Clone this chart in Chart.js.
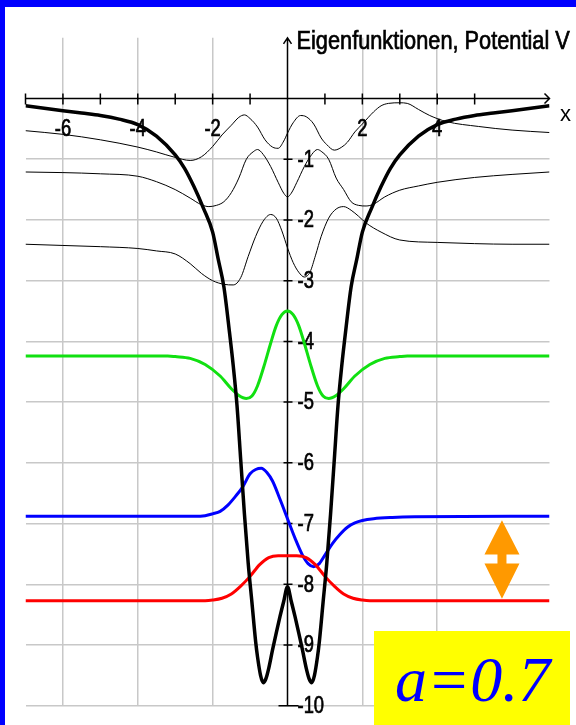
<!DOCTYPE html>
<html>
<head>
<meta charset="utf-8">
<script src="https://cdn.jsdelivr.net/npm/chart.js"></script>
<style>
  body { margin:0; background:#fff; }
  #wrap { position:relative; width:576px; height:725px; overflow:hidden; background:#fff; }
  #plot { position:absolute; left:0; top:0; }
  .frame { position:absolute; background:#0000ff; }
  #abox { position:absolute; left:374px; top:631px; width:196px; height:94px; background:#ffff00; }
  #abox span { position:absolute; left:21px; top:17px; font:italic 64px "Liberation Serif", "DejaVu Serif", serif; line-height:1; color:#0000ff; white-space:nowrap; }
</style>
</head>
<body>
<div id="wrap">
  <canvas id="plot" width="576" height="725"></canvas>
  <div class="frame" style="left:0;top:0;width:576px;height:7px"></div>
  <div class="frame" style="left:0;top:0;width:5px;height:725px"></div>
  <div id="abox"><span>a=0.7</span></div>
</div>
<script>
// potential V(x), double well
const potX = [-7,-6.5,-6,-5.5,-5,-4.5,-4,-3.5,-3,-2.75,-2.5,-2.25,-2,-1.85,-1.7,-1.55,-1.45,-1.35,-1.25,-1.15,-1.05,-0.95,-0.85,-0.8,-0.72,-0.65,-0.58,-0.5,-0.4,-0.3,-0.2,-0.1,0,
              0.1,0.2,0.3,0.4,0.5,0.58,0.65,0.72,0.8,0.85,0.95,1.05,1.15,1.25,1.35,1.45,1.55,1.7,1.85,2,2.25,2.5,2.75,3,3.5,4,4.5,5,5.5,6,6.5,7];
const potV = [-0.12,-0.16,-0.2,-0.24,-0.28,-0.34,-0.43,-0.62,-0.93,-1.15,-1.45,-1.8,-2.2,-2.65,-3.1,-3.85,-4.4,-5.05,-5.95,-6.85,-7.65,-8.3,-8.95,-9.2,-9.5,-9.62,-9.56,-9.38,-9.08,-8.8,-8.53,-8.28,-8.04,
              -8.28,-8.53,-8.8,-9.08,-9.38,-9.56,-9.62,-9.5,-9.2,-8.95,-8.3,-7.65,-6.85,-5.95,-5.05,-4.4,-3.85,-3.1,-2.65,-2.2,-1.8,-1.45,-1.15,-0.93,-0.62,-0.43,-0.34,-0.28,-0.24,-0.2,-0.16,-0.12];

// ground state (red), drawn at its energy
const redX = [-7,-2.2,-2,-1.75,-1.5,-1.25,-1,-0.75,-0.5,-0.25,0,0.25,0.5,0.75,1,1.25,1.5,1.75,2,2.2,7];
const redY = [-8.27,-8.27,-8.26,-8.23,-8.16,-8.03,-7.87,-7.68,-7.56,-7.53,-7.53,-7.53,-7.56,-7.68,-7.87,-8.03,-8.16,-8.23,-8.26,-8.27,-8.27];

// 1st excited (blue)
const blueX = [-7,-2.5,-2.2,-2,-1.8,-1.6,-1.4,-1.2,-1,-0.85,-0.7,-0.55,-0.4,-0.2,0,0.2,0.4,0.55,0.7,0.85,1,1.2,1.4,1.6,1.8,2,2.3,2.8,3.4,7];
const blueY = [-6.88,-6.88,-6.87,-6.84,-6.80,-6.70,-6.56,-6.40,-6.18,-6.11,-6.09,-6.16,-6.30,-6.60,-6.92,-7.24,-7.52,-7.66,-7.71,-7.66,-7.52,-7.33,-7.18,-7.06,-6.99,-6.95,-6.92,-6.90,-6.89,-6.88];

// 2nd excited (green)
const greenX = [-7,-3.2,-3,-2.6,-2.2,-1.8,-1.5,-1.3,-1.1,-0.95,-0.8,-0.6,-0.45,-0.3,-0.15,0,0.15,0.3,0.45,0.6,0.8,0.95,1.1,1.3,1.5,1.8,2.2,2.6,3,3.2,7];
const greenY = [-4.24,-4.24,-4.25,-4.28,-4.38,-4.57,-4.78,-4.89,-4.94,-4.90,-4.73,-4.35,-4.03,-3.74,-3.56,-3.50,-3.56,-3.74,-4.03,-4.35,-4.73,-4.90,-4.94,-4.89,-4.78,-4.57,-4.38,-4.28,-4.25,-4.24,-4.24];

// higher states, thin black
const thinAX = [-7,-6,-5,-4,-3.5,-3,-2.6,-2.3,-2,-1.75,-1.5,-1.3,-1.15,-1,-0.8,-0.6,-0.4,-0.25,-0.1,0,0.15,0.35,0.5,0.7,0.9,1.05,1.25,1.45,1.6,1.8,2,2.3,2.5,2.7,3,3.2,3.5,3.8,4.25,5.1,6,7];
const thinAY = [-0.53,-0.59,-0.68,-0.80,-0.88,-0.97,-1.02,-0.96,-0.79,-0.6,-0.44,-0.31,-0.27,-0.33,-0.47,-0.68,-0.80,-0.82,-0.70,-0.57,-0.40,-0.28,-0.30,-0.42,-0.65,-0.76,-0.85,-0.80,-0.72,-0.55,-0.42,-0.22,-0.12,-0.08,-0.07,-0.08,-0.18,-0.28,-0.38,-0.46,-0.52,-0.56];

const thinBX = [-7,-6,-5,-4,-3.5,-3,-2.6,-2.3,-2.1,-1.9,-1.7,-1.5,-1.3,-1.1,-0.9,-0.8,-0.65,-0.45,-0.25,-0.1,0,0.1,0.25,0.45,0.65,0.8,0.9,1.1,1.3,1.5,1.7,1.9,2.1,2.3,2.6,3,3.5,4,5,6,7];
const thinBY = [-1.21,-1.22,-1.24,-1.28,-1.37,-1.50,-1.64,-1.75,-1.78,-1.76,-1.70,-1.55,-1.31,-1.00,-0.87,-0.84,-0.92,-1.12,-1.38,-1.56,-1.62,-1.56,-1.38,-1.12,-0.92,-0.84,-0.87,-1.00,-1.31,-1.50,-1.70,-1.76,-1.77,-1.74,-1.62,-1.51,-1.44,-1.38,-1.30,-1.25,-1.21];

const thinCX = [-7,-6,-5,-4,-3.5,-3,-2.6,-2.3,-2,-1.7,-1.45,-1.25,-1.05,-0.85,-0.65,-0.45,-0.3,-0.15,0,0.15,0.3,0.45,0.6,0.75,0.9,1.1,1.3,1.5,1.7,1.9,2.1,2.5,3,4,5,6,7];
const thinCY = [-2.40,-2.42,-2.44,-2.47,-2.51,-2.56,-2.72,-2.88,-3.00,-3.06,-3.07,-2.95,-2.60,-2.27,-2.02,-1.91,-1.97,-2.18,-2.46,-2.70,-2.86,-2.94,-2.86,-2.58,-2.27,-1.97,-1.82,-1.78,-1.84,-1.94,-2.05,-2.20,-2.33,-2.37,-2.39,-2.40,-2.40];

// axis ticks and labels
const xTickMarks = [-7,-6,-5,-4,-3,-2,-1,1,2,3,4,5];
const xLabelVals = [-6,-4,-2,2,4];
const yTickVals = [-1,-2,-3,-4,-5,-6,-7,-8,-9,-10];
const xGridVals = [-6,-4,-2,2,4];

// energies marked by the orange arrow
const E0 = -8.27, E1 = -6.88, arrowX = 5.73;

// no narrow font around, so squeeze Liberation Sans sideways
const sansFont = '"Liberation Sans", Arimo, Arial, sans-serif';

function narrowText(ctx, txt, x, y, size, squeeze) {
  ctx.save();
  ctx.font = size + 'px ' + sansFont;
  ctx.translate(x, y);
  ctx.scale(squeeze, 1);
  ctx.lineWidth = 0.7;
  ctx.strokeStyle = ctx.fillStyle;
  ctx.fillText(txt, 0, 0);
  ctx.strokeText(txt, 0, 0);   // a bit heavier, like the old screen font
  ctx.restore();
}

function pts(xs, ys) {
  return xs.map((x, i) => ({x: x, y: ys[i]}));
}

function curve(xs, ys, color, w, order) {
  return {
    data: pts(xs, ys),
    borderColor: color,
    borderWidth: w,
    pointRadius: 0,
    fill: false,
    cubicInterpolationMode: 'monotone',
    order: order
  };
}

// axes with arrows, tick marks, labels, orange arrow
const axisPlugin = {
  id: 'axisPlugin',
  beforeDatasetsDraw(chart) {
    const ctx = chart.ctx;
    const xs = chart.scales.x, ys = chart.scales.y;
    const x0 = xs.getPixelForValue(0), y0 = ys.getPixelForValue(0);
    const xl = xs.getPixelForValue(-7), xr = xs.getPixelForValue(7);
    const yb = ys.getPixelForValue(-10), yt = ys.top;
    ctx.save();
    ctx.strokeStyle = '#000';
    ctx.lineWidth = 1.5;

    ctx.beginPath();
    ctx.moveTo(xl, y0); ctx.lineTo(xr, y0);
    ctx.moveTo(xr - 5, y0 - 5); ctx.lineTo(xr, y0); ctx.lineTo(xr - 5, y0 + 5);
    xTickMarks.forEach(v => {
      const px = xs.getPixelForValue(v);
      ctx.moveTo(px, y0 - 5); ctx.lineTo(px, y0 + 6);
    });
    ctx.moveTo(x0, yb); ctx.lineTo(x0, yt);
    ctx.moveTo(x0 - 4, yt + 6); ctx.lineTo(x0, yt); ctx.lineTo(x0 + 4, yt + 6);
    yTickVals.forEach(v => {
      const py = ys.getPixelForValue(v);
      if (v == -10) { ctx.moveTo(x0 - 9, py); ctx.lineTo(x0 + 11, py); }
      else { ctx.moveTo(x0 - 4, py); ctx.lineTo(x0 + 5, py); }
    });
    ctx.stroke();

    ctx.fillStyle = '#000';
    ctx.textBaseline = 'middle';
    ctx.textAlign = 'center';
    xLabelVals.forEach(v => {
      narrowText(ctx, String(v), xs.getPixelForValue(v), y0 + 31, 23, 0.8);
    });
    ctx.textAlign = 'left';
    yTickVals.forEach(v => {
      narrowText(ctx, String(v), x0 + 10, ys.getPixelForValue(v) + 1, 23, 0.8);
    });

    narrowText(ctx, 'Eigenfunktionen, Potential V', x0 + 9, 42, 25, 0.87);
    ctx.font = '22px ' + sansFont;
    ctx.textAlign = 'center';
    ctx.fillText('x', xr + 16, y0 + 16);

    // double arrow between the two lowest levels
    const ax = xs.getPixelForValue(arrowX);
    const top = ys.getPixelForValue(E1) + 4, bot = ys.getPixelForValue(E0) - 2;
    const mid = (top + bot) / 2;
    ctx.fillStyle = '#ff9900';
    ctx.beginPath();
    ctx.moveTo(ax, top); ctx.lineTo(ax + 17.5, mid - 5); ctx.lineTo(ax - 17.5, mid - 5); ctx.closePath();
    ctx.moveTo(ax, bot); ctx.lineTo(ax + 17.5, mid + 4); ctx.lineTo(ax - 17.5, mid + 4); ctx.closePath();
    ctx.fill();
    ctx.fillRect(ax - 4.5, mid - 6, 9, 11);
    ctx.restore();
  }
};

const gridCol = '#c8c8c8';

new Chart(document.getElementById('plot'), {
  type: 'line',
  data: {
    datasets: [
      curve(potX, potV, '#000000', 3.5, 0),
      curve(redX, redY, '#ff0000', 3, 1),
      curve(blueX, blueY, '#0000ff', 3, 1),
      curve(greenX, greenY, '#11e011', 3, 1),
      curve(thinAX, thinAY, '#000000', 1, 2),
      curve(thinBX, thinBY, '#000000', 1, 2),
      curve(thinCX, thinCY, '#000000', 1, 2)
    ]
  },
  options: {
    responsive: false,
    animation: false,
    layout: { padding: { left: 25.5, right: 26.5, top: 37.8, bottom: 19.3 } },
    plugins: { legend: { display: false }, tooltip: { enabled: false } },
    scales: {
      x: {
        type: 'linear', min: -7, max: 7,
        ticks: { display: false, stepSize: 1 },
        border: { display: false },
        grid: {
          drawTicks: false,
          lineWidth: 1.5,
          color: c => xGridVals.includes(c.tick.value) ? gridCol : 'rgba(0,0,0,0)'
        }
      },
      y: {
        type: 'linear', min: -10, max: 1,
        ticks: { display: false, stepSize: 1 },
        border: { display: false },
        grid: {
          drawTicks: false,
          lineWidth: 1.5,
          color: c => c.tick.value <= -1 ? gridCol : 'rgba(0,0,0,0)'
        }
      }
    }
  },
  plugins: [axisPlugin]
});
</script>
</body>
</html>
